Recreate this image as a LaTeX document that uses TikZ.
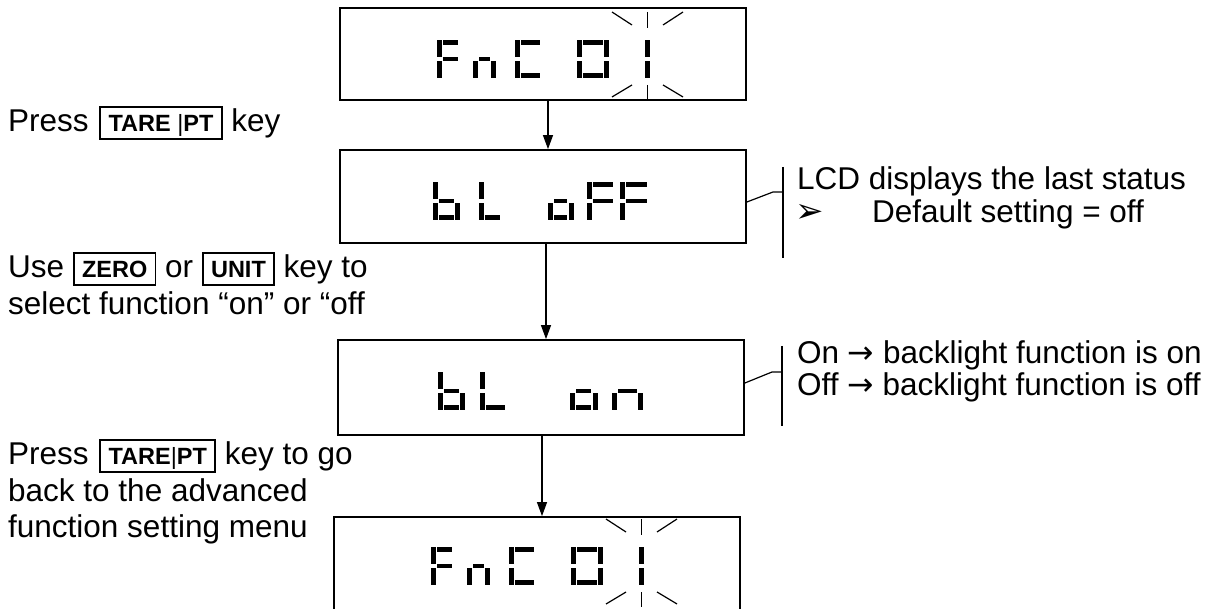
\documentclass[tikz,border=0pt]{standalone}
\usepackage{fontspec}
\setmainfont{Liberation Sans}
\newfontfamily\symfont{DejaVu Sans}
\usetikzlibrary{arrows.meta}

% seven-segment geometry: thickness, gap, height
\def\lcdT{4.8}\def\lcdG{1.6}\def\lcdH{38}
\newcommand\lcdsega[3]{\fill (#1+\lcdT+\lcdG,#2) rectangle (#1+#3-\lcdT-\lcdG,#2+\lcdT);}
\newcommand\lcdsegb[3]{\fill (#1+#3-\lcdT,#2) rectangle (#1+#3,#2+\lcdH/2-\lcdG);}
\newcommand\lcdsegc[3]{\fill (#1+#3-\lcdT,#2+\lcdH/2+\lcdG) rectangle (#1+#3,#2+\lcdH);}
\newcommand\lcdsegd[3]{\fill (#1+\lcdT+\lcdG,#2+\lcdH-\lcdT) rectangle (#1+#3-\lcdT-\lcdG,#2+\lcdH);}
\newcommand\lcdsege[3]{\fill (#1,#2+\lcdH/2+\lcdG) rectangle (#1+\lcdT,#2+\lcdH);}
\newcommand\lcdsegf[3]{\fill (#1,#2) rectangle (#1+\lcdT,#2+\lcdH/2-\lcdG);}
\newcommand\lcdsegg[3]{\fill (#1+\lcdT+\lcdG,#2+\lcdH/2-\lcdT/2) rectangle (#1+#3-\lcdT-\lcdG,#2+\lcdH/2+\lcdT/2);}
% \lcdchar{x}{y top}{width}{segments}
\newcommand\lcdchar[4]{\foreach \s in {#4}{\csname lcdseg\s\endcsname{#1}{#2}{#3}}}

% "FnC 01" with the blinking marks around the last digit
\newcommand\fncglyphs{%
  \lcdchar{437}{40}{27}{a,f,e,g}
  \lcdchar{473}{40}{23}{c,e,g}
  \lcdchar{515}{40}{31}{a,f,e,d}
  \lcdchar{577}{40}{32}{a,b,c,d,e,f}
  \lcdchar{645}{40}{4.8}{b,c}
  \draw[ray] (612,12) -- (632,25);
  \draw[ray] (647.4,12) -- (647.4,28);
  \draw[ray] (663,25) -- (683,12);
  \draw[ray] (612,97) -- (632,85);
  \draw[ray] (647.4,85) -- (647.4,100);
  \draw[ray] (663,85) -- (683,97);
}

% key cap with bold label
\newcommand\keycap[1]{{\setlength\fboxrule{1.6pt}\setlength\fboxsep{0pt}%
  \fbox{\rule[-6pt]{0pt}{30pt}\hspace{7.5pt}{\fontsize{23.5pt}{23.5pt}\selectfont\bfseries #1}\hspace{7.5pt}}}}
\newcommand\rarrow{{\symfont →}}

\tikzset{
  lcd/.style={draw, line width=1.8pt, inner sep=0pt},
  flow/.style={line width=1.2pt, -{Triangle[length=14pt,width=10pt]}},
  ray/.style={line width=1.2pt},
  brace/.style={line width=1.2pt},
  lefttext/.style={anchor=base west, inner sep=0pt, font=\fontsize{31.5pt}{37pt}\selectfont},
  righttext/.style={anchor=base west, inner sep=0pt, font=\fontsize{31.5pt}{36pt}\selectfont},
}

\begin{document}
\begin{tikzpicture}[x=1pt,y=-1pt]
  \useasboundingbox (0,0) rectangle (1227,609);
  \fill[white] (0,0) rectangle (1227,609);
  \clip (0,0) rectangle (1227,609);

  % display boxes
  \node[lcd, minimum width=406pt, minimum height=92pt] (d1) at (543,54) {};
  \node[lcd, minimum width=406pt, minimum height=93pt] (d2) at (543,196.5) {};
  \node[lcd, minimum width=406pt, minimum height=95pt] (d3) at (541,387.5) {};
  \node[lcd, minimum width=406pt, minimum height=100pt] (d4) at (537,567) {};

  % display contents
  \fncglyphs
  \lcdchar{433}{182}{27}{c,d,e,f,g}
  \lcdchar{479}{182}{27}{d,e,f}
  \lcdchar{548}{182}{25.5}{c,d,e,g}
  \lcdchar{587}{182}{32}{a,e,f,g}
  \lcdchar{620}{182}{33}{a,e,f,g}

  \lcdchar{438}{372}{27}{c,d,e,f,g}
  \lcdchar{480}{372}{31}{d,e,f}
  \lcdchar{570}{372}{27.5}{c,d,e,g}
  \lcdchar{612}{372}{31}{c,e,g}

  \begin{scope}[shift={(-6,507)}]
    \fncglyphs
  \end{scope}

  % flow arrows
  \draw[flow] ([xshift=5pt]d1.south) -- ([xshift=5pt]d2.north);
  \draw[flow] ([xshift=3pt]d2.south) -- ([xshift=5pt]d3.north);
  \draw[flow] ([xshift=1pt]d3.south) -- ([xshift=5pt]d4.north);

  % side notes with brackets
  \coordinate (b1top) at (783,167);
  \coordinate (b1bot) at (783,258);
  \coordinate (b1mid) at (783,192);
  \coordinate (b1knee) at (773,192);
  \draw[brace] (b1top) -- (b1bot);
  \draw[brace] ([yshift=-5.5pt]d2.east) -- (b1knee) -- (b1mid);

  \coordinate (b2top) at (782,346);
  \coordinate (b2bot) at (782,426);
  \coordinate (b2mid) at (782,372);
  \coordinate (b2knee) at (772,372);
  \draw[brace] (b2top) -- (b2bot);
  \draw[brace] ([yshift=4.5pt]d3.east) -- (b2knee) -- (b2mid);

  \node[righttext] (r1) at (797,190) {LCD displays the last status};
  \node[righttext] (r2) at (795,223) {\makebox[77pt][l]{\smash{\symfont\fontsize{34pt}{34pt}\selectfont ➢}}Default setting = off};
  \node[righttext] (r3) at (797,364) {On \rarrow{} backlight function is on};
  \node[righttext] (r4) at (797,396) {Off \rarrow{} backlight function is off};

  % instructions on the left
  \node[lefttext] (t1) at (8,132) {Press\hspace{2pt} \keycap{TARE {\mdseries|}PT} key};
  \node[lefttext] (t2) at (8,278) {Use \keycap{ZERO} or \keycap{UNIT} key to};
  \node[lefttext] (t3) at (8,315) {select function “on” or “off};
  \node[lefttext] (t4) at (8,465) {Press\hspace{2pt} \keycap{TARE{\mdseries|}PT} key to go};
  \node[lefttext] (t5) at (8,501) {back to the advanced};
  \node[lefttext] (t6) at (8,537) {function setting menu};
\end{tikzpicture}
\end{document}
